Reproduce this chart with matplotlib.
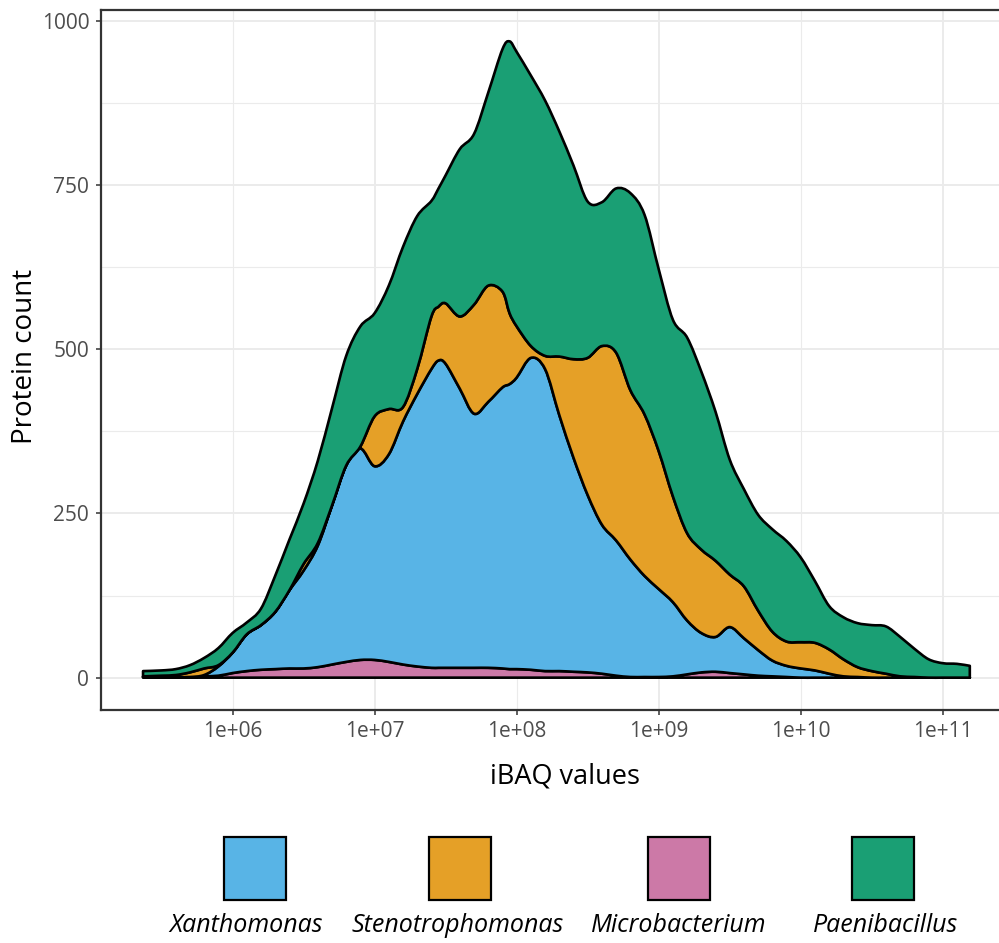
import numpy as np
import matplotlib
matplotlib.use("Agg")
import matplotlib.pyplot as plt
from matplotlib.path import Path
from matplotlib.patches import PathPatch, Rectangle

plt.rcParams['font.family'] = ['Open Sans', 'DejaVu Sans']

# log10(iBAQ) evaluation grid shared by all density curves
log_ibaq = [5.37, 5.5, 5.6, 5.7, 5.8, 5.9,
            6.0, 6.1, 6.2, 6.3, 6.4, 6.5, 6.6, 6.7, 6.8, 6.9,
            7.0, 7.1, 7.2, 7.3, 7.4, 7.45, 7.5, 7.6, 7.7, 7.8, 7.9, 7.95,
            8.0, 8.1, 8.2, 8.3, 8.4, 8.5, 8.6, 8.7, 8.8, 8.9,
            9.0, 9.1, 9.2, 9.3, 9.4, 9.5, 9.6, 9.7, 9.8, 9.9,
            10.0, 10.1, 10.2, 10.3, 10.4, 10.5, 10.6, 10.7, 10.8, 10.9,
            11.0, 11.1, 11.19]

# protein counts (density scaled to counts) per genus, stacked bottom -> top
microbacterium = [1, 1, 1, 1, 2, 3,
                  7, 10, 12, 13, 14, 14, 16, 20, 24, 27,
                  27, 24, 20, 17, 15, 15, 15, 15, 15, 15, 14, 13,
                  13, 12, 10, 10, 9, 8, 6, 3, 1, 1,
                  1, 2, 5, 8, 9, 7, 5, 3, 2, 1,
                  0, 0, 0, 0, 0, 0, 0, 0, 0, 0,
                  0, 0, 0]
xanthomonas = [0, 0, 0, 0, 2, 14,
               31, 56, 68, 87, 119, 149, 185, 242, 299, 322,
               295, 316, 370, 415, 455, 468, 463, 425, 387, 405, 428, 434,
               444, 475, 460, 390, 326, 270, 227, 206, 179, 154,
               134, 113, 82, 60, 53, 70, 55, 39, 24, 17,
               14, 11, 6, 2, 1, 0, 0, 0, 0, 0,
               0, 0, 0]
stenotrophomonas = [1, 2, 3, 7, 10, 2,
                    0, 0, 0, 0, 0, 10, 4, 0, 0, 3,
                    76, 69, 22, 38, 80, 82, 92, 110, 166, 177, 146, 108,
                    78, 18, 20, 89, 150, 209, 272, 286, 258, 246,
                    210, 161, 133, 127, 116, 80, 79, 60, 44, 37,
                    40, 42, 37, 26, 15, 10, 6, 2, 1, 0,
                    0, 0, 0]
paenibacillus = [8, 8, 9, 11, 16, 26,
                 30, 18, 25, 55, 77, 92, 125, 148, 167, 183,
                 157, 188, 244, 233, 176, 180, 195, 255, 260, 294, 369, 414,
                 418, 412, 389, 343, 295, 238, 219, 250, 300, 304,
                 277, 269, 298, 271, 227, 175, 148, 146, 156, 153,
                 129, 94, 66, 64, 67, 70, 72, 60, 43, 28,
                 22, 21, 18]

stack_order = ["Microbacterium", "Xanthomonas", "Stenotrophomonas", "Paenibacillus"]
series = {"Microbacterium": microbacterium, "Xanthomonas": xanthomonas,
          "Stenotrophomonas": stenotrophomonas, "Paenibacillus": paenibacillus}
colors = {"Xanthomonas": "#58B4E6", "Stenotrophomonas": "#E5A027",
          "Microbacterium": "#CC79A7", "Paenibacillus": "#1A9F74"}
legend_order = ["Xanthomonas", "Stenotrophomonas", "Microbacterium", "Paenibacillus"]

x_tick_pos = [6, 7, 8, 9, 10, 11]
x_tick_labels = ["1e+06", "1e+07", "1e+08", "1e+09", "1e+10", "1e+11"]
y_ticks = [0, 250, 500, 750, 1000]
y_minor = [125, 375, 625, 875]


def catmull_rom(x, y):
    """Smooth cubic Bezier segments passing through every (x, y) point."""
    P = np.column_stack([x, y]).astype(float)
    Pp = np.vstack([P[0], P, P[-1]])
    verts = [P[0]]
    for i in range(len(P) - 1):
        p0, p1, p2, p3 = Pp[i], Pp[i + 1], Pp[i + 2], Pp[i + 3]
        verts += [p1 + (p2 - p0) / 6.0, p2 - (p3 - p1) / 6.0, p2]
    return np.array(verts)


W, H = 999, 943
fig = plt.figure(figsize=(W / 100, H / 100), dpi=100)
ax_left, ax_right, ax_top, ax_bottom = 101, 1011, 9.5, 709.5
ax = fig.add_axes([ax_left / W, 1 - ax_bottom / H,
                   (ax_right - ax_left) / W, (ax_bottom - ax_top) / H])

ax.set_xlim(5.074, 11.48)
ax.set_ylim(-48.5, 1017.5)

# background grid
for xv in x_tick_pos:
    ax.axvline(xv, color="#EBEBEB", lw=1.4 if xv % 2 else 0.8, zorder=0)
for yv in y_ticks:
    ax.axhline(yv, color="#EBEBEB", lw=1.4, zorder=0)
for yv in y_minor:
    ax.axhline(yv, color="#EBEBEB", lw=0.8, zorder=0)

# stacked density areas
x = np.array(log_ibaq, dtype=float)
base = np.zeros_like(x)
for name in stack_order:
    top = base + np.array(series[name], dtype=float)
    upper = catmull_rom(x, top)
    lower = catmull_rom(x[::-1], base[::-1])
    verts = np.vstack([upper, lower, upper[:1]])
    codes = ([Path.MOVETO] + [Path.CURVE4] * (len(upper) - 1)
             + [Path.LINETO] + [Path.CURVE4] * (len(lower) - 1)
             + [Path.CLOSEPOLY])
    ax.add_patch(PathPatch(Path(verts, codes), facecolor=colors[name],
                           edgecolor="black", lw=1.9, joinstyle="round", zorder=2))
    base = top

ax.set_xticks(x_tick_pos)
ax.set_xticklabels(x_tick_labels)
ax.set_yticks(y_ticks)
ax.tick_params(axis="both", length=3.5, width=1.1, color="#333333",
               labelcolor="#4D4D4D", labelsize=15, pad=5)
for s in ax.spines.values():
    s.set_color("#333333")
    s.set_linewidth(1.6)

ax.set_xlabel("iBAQ values", fontsize=19.5)
ax.set_ylabel("Protein count", fontsize=20)
ax.xaxis.label.set_va("center")
ax.yaxis.label.set_va("center")
ax.xaxis.set_label_coords((565 - ax_left) / (ax_right - ax_left),
                          -(777 - ax_bottom) / (ax_bottom - ax_top))
ax.yaxis.set_label_coords(-(ax_left - 25) / (ax_right - ax_left),
                          (ax_bottom - 356) / (ax_bottom - ax_top))

# legend below the panel: keys with italic labels underneath
key_left = [224, 429, 648, 852]
label_cx = [246, 458, 679, 886]
for name, kx, lx in zip(legend_order, key_left, label_cx):
    fig.add_artist(Rectangle((kx / W, 1 - 900 / H), 62 / W, 63 / H,
                             transform=fig.transFigure, facecolor=colors[name],
                             edgecolor="black", lw=1.6))
    fig.text(lx / W, 1 - 926 / H, name, ha="center", va="center",
             fontsize=18, style="italic")

fig.savefig("out.png", dpi=100)
